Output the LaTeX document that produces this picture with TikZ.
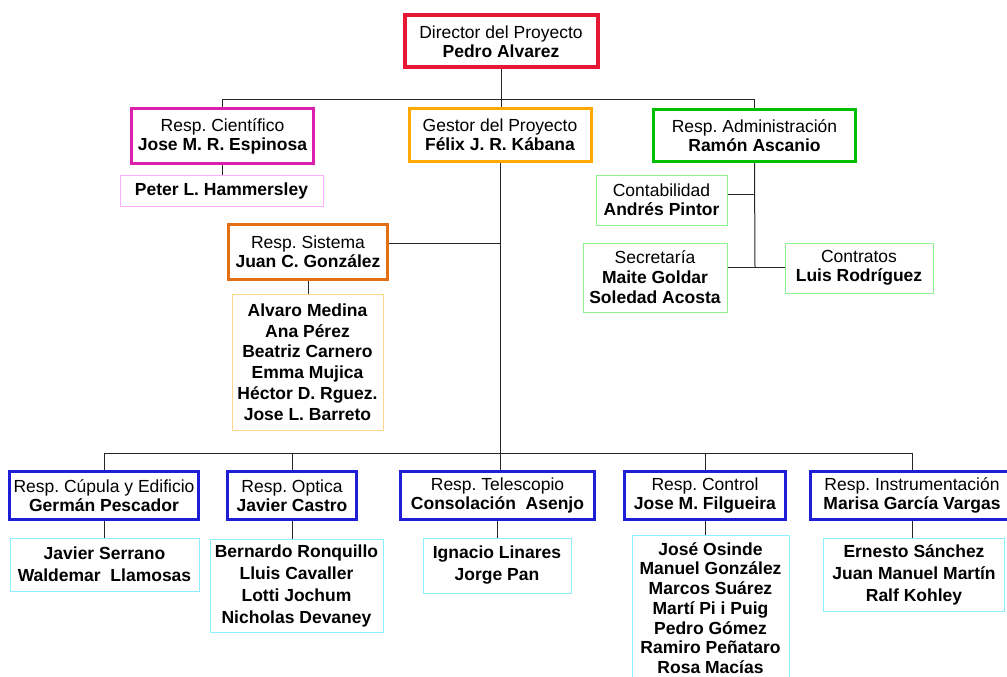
\documentclass[tikz,border=0pt]{standalone}
\usepackage{fontspec}
\setmainfont{Liberation Sans}
\definecolor{cred}{RGB}{232,24,52}
\definecolor{cmag}{RGB}{222,30,172}
\definecolor{cgest}{RGB}{255,168,0}
\definecolor{cgreen}{RGB}{0,190,0}
\definecolor{csist}{RGB}{228,112,20}
\definecolor{cpink}{RGB}{255,175,255}
\definecolor{clgreen}{RGB}{140,240,140}
\definecolor{clorange}{RGB}{255,214,140}
\definecolor{cblue}{RGB}{30,30,215}
\definecolor{ccyan}{RGB}{140,238,255}
\tikzset{
  box/.style={draw, rectangle, inner sep=0pt, align=center, fill=white,
              font=\frenchspacing\fontsize{17.5}{19}\selectfont},
  head/.style={box, line width=3pt},
  team/.style={box, line width=1pt, font=\frenchspacing\bfseries\fontsize{17.5}{22}\selectfont},
  sub/.style={box, line width=1pt},
  conn/.style={line width=1pt, draw=black!85},
}
\begin{document}
\frenchspacing
\begin{tikzpicture}[x=1pt, y=-1pt]
\useasboundingbox (0,0) rectangle (1007,677);
\clip (0,0) rectangle (1007,677);

% top level
\node[head, draw=cred, line width=4pt, minimum width=193, minimum height=52] (dir) at (501,41.5)
  {Director del Proyecto\\\textbf{Pedro Alvarez}};
\node[head, draw=cmag, minimum width=182, minimum height=55] (cien) at (222.5,136)
  {Resp. Científico\\\textbf{Jose M. R. Espinosa}};
\node[head, draw=cgest, minimum width=182, minimum height=53] (gest) at (500,135)
  {Gestor del Proyecto\\\textbf{Félix J. R. Kábana}};
\node[head, draw=cgreen, minimum width=202, minimum height=52] (adm) at (754.5,135.5)
  {Resp. Administración\\\textbf{Ramón Ascanio}};

% second level
\node[team, draw=cpink, minimum width=203, minimum height=31] (peter) at (221.5,190.5)
  {Peter L. Hammersley};
\node[sub, draw=clgreen, minimum width=131, minimum height=50] (cont) at (661.5,200)
  {Contabilidad\\\textbf{Andrés Pintor}};
\node[sub, draw=clgreen, minimum width=144, minimum height=69,
      font=\fontsize{17.5}{20}\selectfont] (secr) at (655,277.5)
  {Secretaría\\\textbf{Maite Goldar}\\\textbf{Soledad Acosta}};
\node[sub, draw=clgreen, minimum width=148, minimum height=50] (contr) at (859,268)
  {Contratos\\\textbf{Luis Rodríguez}};
\node[head, draw=csist, minimum width=159, minimum height=55] (sist) at (308,252)
  {Resp. Sistema\\\textbf{Juan C. González}};
\node[team, draw=clorange, minimum width=151, minimum height=136,
      font=\bfseries\fontsize{17.5}{20.8}\selectfont] (sistT) at (307.5,362)
  {Alvaro Medina\\Ana Pérez\\Beatriz Carnero\\Emma Mujica\\Héctor D. Rguez.\\Jose L. Barreto};

% bottom level
\node[head, draw=cblue, minimum width=189, minimum height=48] (cup) at (104,495.5)
  {Resp. Cúpula y Edificio\\\textbf{Germán Pescador}};
\node[team, draw=ccyan, minimum width=189, minimum height=53] (cupT) at (104.5,564.5)
  {Javier Serrano\\Waldemar\ \ Llamosas};
\node[head, draw=cblue, minimum width=129, minimum height=48] (opt) at (292,495.5)
  {Resp. Optica\\\textbf{Javier Castro}};
\node[team, draw=ccyan, minimum width=173, minimum height=93] (optT) at (296.5,585.5)
  {Bernardo Ronquillo\\Lluis Cavaller\\Lotti Jochum\\Nicholas Devaney};
\node[head, draw=cblue, minimum width=194, minimum height=48] (tel) at (497.5,495.5)
  {Resp. Telescopio\\\textbf{Consolación\ \ Asenjo}};
\node[team, draw=ccyan, minimum width=148, minimum height=55] (telT) at (497,565.5)
  {Ignacio Linares\\Jorge Pan};
\node[head, draw=cblue, minimum width=161, minimum height=48] (ctl) at (705,495.5)
  {Resp. Control\\\textbf{Jose M. Filgueira}};
\node[team, draw=ccyan, minimum width=157, minimum height=146,
      font=\bfseries\fontsize{17.5}{19.7}\selectfont] (ctlT) at (710.5,608)
  {José Osinde\\Manuel González\\Marcos Suárez\\Martí Pi i Puig\\Pedro Gómez\\Ramiro Peñataro\\Rosa Macías};
\node[head, draw=cblue, minimum width=203, minimum height=48] (ins) at (912,495.5)
  {Resp. Instrumentación\\\textbf{Marisa García Vargas}};
\node[team, draw=ccyan, minimum width=181, minimum height=73] (insT) at (914,575)
  {Ernesto Sánchez\\Juan Manuel Martín\\Ralf Kohley};

% junctions
\coordinate (tb) at (501,99);
\coordinate (bb) at (501,453);
\coordinate (sj) at (501,243);
\coordinate (aj1) at (755,194);
\coordinate (aj2) at (755,267);

% connectors
\draw[conn] (dir.south) -- (dir.south |- gest.north);
\draw[conn] (cien.north) -- (cien.north |- tb) -- (adm.north |- tb) -- (adm.north);
\draw[conn] (cien.south) -- (cien.south |- peter.north);
\draw[conn] (gest.south) -- (gest.south |- tel.north);
\draw[conn] (sist.east |- sj) -- (gest.south |- sj);
\draw[conn] (sist.south) -- (sist.south |- sistT.north);
\draw[conn] (adm.south) -- (aj2);
\draw[conn] (cont.east |- aj1) -- (aj1);
\draw[conn] (secr.east |- aj2) -- (contr.west |- aj2);
\draw[conn] (cup.north) -- (cup.north |- bb) -- (ins.north |- bb) -- (ins.north);
\draw[conn] (opt.north) -- (opt.north |- bb);
\draw[conn] (ctl.north) -- (ctl.north |- bb);
\draw[conn] (cup.south) -- (cup.south |- cupT.north);
\draw[conn] (opt.south) -- (opt.south |- optT.north);
\draw[conn] (tel.south) -- (tel.south |- telT.north);
\draw[conn] (ctl.south) -- (ctl.south |- ctlT.north);
\draw[conn] (ins.south) -- (ins.south |- insT.north);
\end{tikzpicture}
\end{document}
